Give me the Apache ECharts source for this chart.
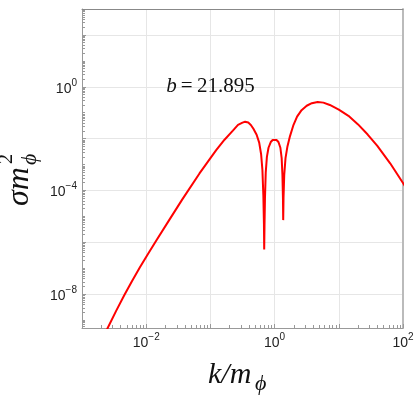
<!DOCTYPE html>
<html>
<head>
<meta charset="utf-8">
<script src="https://cdn.jsdelivr.net/npm/echarts@6/dist/echarts.min.js"></script>
<style>
  html, body { margin: 0; padding: 0; background: #fff; }
  #main { width: 417px; height: 399px; }
</style>
</head>
<body>
<div id="main"></div>
<script>
// values, as log10 (both axes are logarithmic)
const logK = [-2.66, -2.6, -2.47, -2.34, -2.22, -2.1, -1.97, -1.84, -1.64, -1.44, -1.17, -0.91, -0.78, -0.65,
  -0.57, -0.5, -0.46, -0.41, -0.37, -0.33, -0.28, -0.24, -0.21, -0.19, -0.175, -0.166, -0.162,
  -0.157, -0.15, -0.138, -0.12, -0.095, -0.06, -0.03, 0.0, 0.03, 0.06, 0.09, 0.11, 0.122, 0.13,
  0.134, 0.139, 0.15, 0.17, 0.2, 0.24, 0.29, 0.35, 0.42, 0.5, 0.58, 0.67, 0.76, 0.86, 1.0,
  1.15, 1.3, 1.45, 1.6, 1.8, 2.0, 2.05];
const logSigma = [-9.6, -9.3, -8.65, -8.03, -7.49, -6.97, -6.44, -5.92, -5.13, -4.35, -3.34, -2.44, -2.04, -1.69,
  -1.47, -1.38, -1.35, -1.38, -1.47, -1.62, -1.85, -2.15, -2.6, -3.2, -4.2, -5.3, -6.27,
  -5.3, -4.3, -3.3, -2.7, -2.35, -2.13, -2.05, -2.03, -2.05, -2.13, -2.35, -2.75, -3.4, -4.3,
  -5.14, -4.3, -3.4, -2.75, -2.3, -1.9, -1.5, -1.15, -0.9, -0.73, -0.63, -0.59, -0.61, -0.7, -0.88,
  -1.12, -1.45, -1.84, -2.28, -2.95, -3.71, -3.9];

const xLabelDecades = [-2, 0, 2];
const yLabelDecades = [-8, -4, 0];
const yGridDecades = [-8, -6, -4, -2, 0, 2];
const bValue = '21.895';

const xRange = [-3, 2];
const yRange = [-9.3, 3];

// minor log ticks (2..9 in each decade)
function minorTicks(lo, hi) {
  const out = [];
  for (let n = Math.floor(lo); n < hi; n++) {
    out.push(n);
    for (let m = 2; m <= 9; m++) {
      const v = n + Math.log10(m);
      if (v >= lo && v <= hi) out.push(v);
    }
  }
  return out;
}

function pow10(n) {
  return '{b|10}{s|' + (n < 0 ? '\u2212' : '') + Math.abs(n) + '}';
}

const labelRich = {
  b: { fontSize: 14, fontFamily: 'Liberation Sans', color: '#222', lineHeight: 18, verticalAlign: 'bottom' },
  s: { fontSize: 10, fontFamily: 'Liberation Sans', color: '#222', lineHeight: 18, verticalAlign: 'top' }
};

const chart = echarts.init(document.getElementById('main'), null, { renderer: 'canvas' });

const option = {
  animation: false,
  backgroundColor: '#fff',
  grid: { left: 82, right: 14, top: 9, bottom: 71, show: false },
  xAxis: [{
    type: 'value', min: xRange[0], max: xRange[1], interval: 1, position: 'bottom',
    axisLine: { show: true, onZero: false, lineStyle: { color: '#999', width: 1 } },
    axisTick: { show: true, inside: true, length: 4, lineStyle: { color: '#999' } },
    splitLine: { show: true, lineStyle: { color: '#e6e6e6', width: 1 } },
    axisLabel: {
      show: true, margin: 4, customValues: xLabelDecades,
      formatter: v => pow10(Math.round(v)), rich: labelRich
    }
  }, {
    type: 'value', min: xRange[0], max: xRange[1], position: 'bottom',
    axisLine: { show: false, onZero: false },
    axisTick: { show: true, inside: true, length: 3, customValues: minorTicks(xRange[0], xRange[1]), lineStyle: { color: '#999' } },
    splitLine: { show: false }, axisLabel: { show: false }
  }, {
    type: 'value', min: xRange[0], max: xRange[1], position: 'top',
    axisLine: { show: true, onZero: false, lineStyle: { color: '#888', width: 1 } },
    axisTick: { show: false }, splitLine: { show: false }, axisLabel: { show: false }
  }],
  yAxis: [{
    type: 'value', min: yRange[0], max: yRange[1], position: 'left',
    axisLine: { show: true, onZero: false, lineStyle: { color: '#999', width: 1 } },
    axisTick: { show: true, inside: true, length: 4, customValues: yGridDecades, lineStyle: { color: '#999' } },
    splitLine: { show: true, lineStyle: { color: '#e6e6e6', width: 1 } },
    axisLabel: {
      show: true, margin: 5, customValues: yLabelDecades,
      formatter: v => pow10(Math.round(v)), rich: labelRich
    }
  }, {
    type: 'value', min: yRange[0], max: yRange[1], position: 'left',
    axisLine: { show: false, onZero: false },
    axisTick: { show: true, inside: true, length: 3, customValues: minorTicks(yRange[0], yRange[1]), lineStyle: { color: '#999' } },
    splitLine: { show: false }, axisLabel: { show: false }
  }, {
    type: 'value', min: yRange[0], max: yRange[1], position: 'right',
    axisLine: { show: true, onZero: false, lineStyle: { color: '#bbb', width: 2 } },
    axisTick: { show: false }, splitLine: { show: false }, axisLabel: { show: false }
  }],
  series: [{
    type: 'line',
    xAxisIndex: 0, yAxisIndex: 0,
    data: logK.map((x, i) => [x, logSigma[i]]),
    showSymbol: false,
    clip: true,
    lineStyle: { color: '#ff0000', width: 2 },
    markPoint: {
      symbol: 'circle', symbolSize: 0,
      data: [{ coord: [-1, 0] }],
      label: {
        show: true, position: 'inside',
        formatter: '{i|b}{r|\u2009=\u2009' + bValue + '}',
        rich: {
          i: { fontFamily: 'Liberation Serif', fontStyle: 'italic', fontSize: 21, color: '#111' },
          r: { fontFamily: 'Liberation Serif', fontSize: 21, color: '#111' }
        }
      }
    }
  }],
  graphic: [{
    // x axis title
    type: 'group', x: 242, y: 375,
    children: [
      { type: 'text', x: -34, y: 0, style: { text: 'k/m', font: 'italic 30px "Liberation Serif"', fill: '#111', verticalAlign: 'middle' } },
      { type: 'text', x: 13, y: 9, style: { text: '\u03d5', font: 'italic 22px "Liberation Serif"', fill: '#111', verticalAlign: 'middle' } }
    ]
  }, {
    // y axis title
    type: 'group', x: 20, y: 173, rotation: Math.PI / 2,
    children: [
      { type: 'text', x: -33, y: 0, style: { text: '\u03c3m', font: 'italic 32px "Liberation Serif"', fill: '#111', verticalAlign: 'middle' } },
      { type: 'text', x: 9, y: -13, style: { text: '2', font: '20px "Liberation Serif"', fill: '#111', verticalAlign: 'middle' } },
      { type: 'text', x: 8, y: 10, style: { text: '\u03d5', font: 'italic 22px "Liberation Serif"', fill: '#111', verticalAlign: 'middle' } }
    ]
  }]
};

chart.setOption(option);
</script>
</body>
</html>
